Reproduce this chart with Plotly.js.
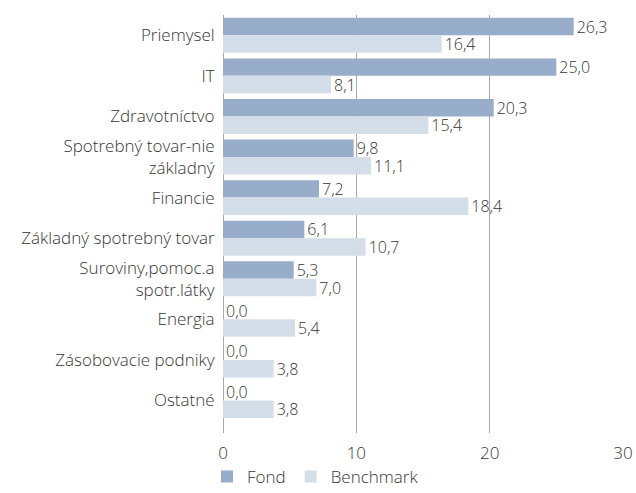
<!DOCTYPE html>
<html>
<head>
<meta charset="utf-8">
<script src="https://cdn.plot.ly/plotly-3.0.1.min.js"></script>
<style>html,body{margin:0;padding:0;background:#fff;}#chart{width:636px;height:493px;}</style>
</head>
<body>
<div id="chart"></div>
<script>
const categories = [
  "Priemysel",
  "IT",
  "Zdravotníctvo",
  "Spotrebný tovar-nie<br>základný",
  "Financie",
  "Základný spotrebný tovar",
  "Suroviny,pomoc.a<br>spotr.látky",
  "Energia",
  "Zásobovacie podniky",
  "Ostatné"
];
const fondValues = [26.3, 25.0, 20.3, 9.8, 7.2, 6.1, 5.3, 0.0, 0.0, 0.0];
const benchmarkValues = [16.4, 8.1, 15.4, 11.1, 18.4, 10.7, 7.0, 5.4, 3.8, 3.8];
const seriesNames = ["Fond", "Benchmark"];
const xTicks = [0, 10, 20, 30];

const FONT = "'Open Sans', sans-serif";
const TXT = "#363636";

const traces = [
  {
    type: "bar", orientation: "h", name: seriesNames[0],
    y: categories, x: fondValues,
    marker: {color: "#97adc9"},
    texttemplate: "%{x:.1f}", textposition: "outside", constraintext: "none",
    textfont: {family: FONT, size: 16, color: TXT, weight: 300},
    cliponaxis: false, hoverinfo: "none"
  },
  {
    type: "bar", orientation: "h", name: seriesNames[1],
    y: categories, x: benchmarkValues,
    marker: {color: "#d4dee8"},
    texttemplate: "%{x:.1f}", textposition: "outside", constraintext: "none",
    textfont: {family: FONT, size: 16, color: TXT, weight: 300},
    cliponaxis: false, hoverinfo: "none"
  }
];

const layout = {
  width: 636, height: 493,
  margin: {l: 223, r: 13, t: 15, b: 60, autoexpand: false},
  paper_bgcolor: "#fff", plot_bgcolor: "#fff",
  separators: ", ",
  font: {family: FONT, size: 17, color: TXT, weight: 300},
  barmode: "group", bargap: 0.14, bargroupgap: 0,
  showlegend: true,
  legend: {orientation: "h", x: -0.04, xanchor: "left", y: -0.062, yanchor: "top",
           font: {family: FONT, size: 17, color: TXT, weight: 300}, traceorder: "normal"},
  xaxis: {
    range: [0, 30], tickvals: xTicks, ticktext: xTicks.map(String),
    showgrid: true, gridcolor: "#a9a9a9", gridwidth: 1,
    zeroline: true, zerolinecolor: "#a9a9a9", zerolinewidth: 1,
    showline: false, ticks: "outside", ticklen: 5, tickcolor: "rgba(0,0,0,0)",
    tickfont: {family: FONT, size: 17, color: TXT, weight: 300}, fixedrange: true
  },
  yaxis: {
    type: "category", categoryorder: "array", categoryarray: categories,
    range: [9.8, -0.5], autorange: false,
    showgrid: false, zeroline: false, showline: false,
    ticks: "outside", ticklen: 4, tickcolor: "rgba(0,0,0,0)",
    tickfont: {family: FONT, size: 17, color: TXT, weight: 300}, fixedrange: true
  }
};

Plotly.newPlot("chart", traces, layout, {displayModeBar: false, staticPlot: true});
</script>
</body>
</html>
